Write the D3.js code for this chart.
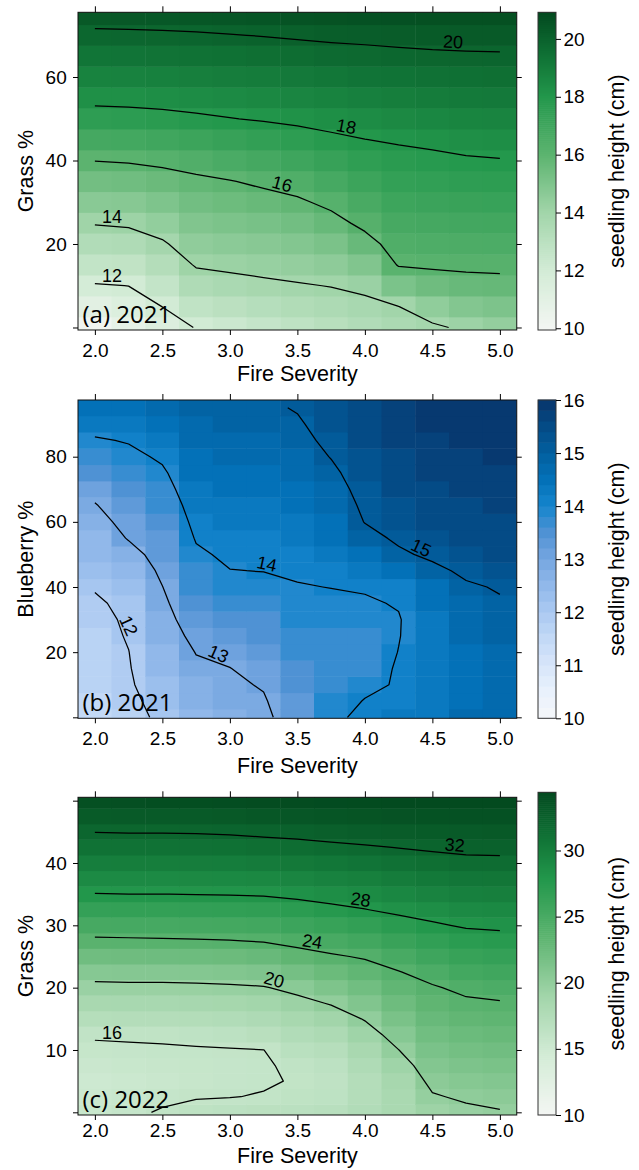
<!DOCTYPE html>
<html><head><meta charset="utf-8">
<script src="https://cdn.jsdelivr.net/npm/d3@7"></script>
<style>body{margin:0;background:#fff} svg{display:block}</style>
</head><body><svg id="c" width="639" height="1170"></svg>
<script>
// ---------------- DATA ----------------
const fireSeverity = [2.0, 2.25, 2.5, 2.75, 3.0, 3.25, 3.5, 3.75, 4.0, 4.25, 4.5, 4.75, 5.0];
const xTicks = [2.0, 2.5, 3.0, 3.5, 4.0, 4.5, 5.0];

// (a) 2021 grass: rows of grass %, one column array per fire severity
const grassA = [0, 5, 10, 15, 20, 25, 30, 35, 40, 45, 50, 55, 60, 65, 70, 75];
const heightA = [
  [10.2, 11.07, 11.93, 12.65, 13.36, 14.06, 14.71, 15.36, 16.02, 16.80, 17.59, 18.25, 18.78, 19.31, 19.83, 20.36],
  [10.8, 11.41, 12.01, 12.73, 13.45, 14.15, 14.79, 15.43, 16.08, 16.86, 17.64, 18.28, 18.81, 19.33, 19.85, 20.38],
  [11.45, 12.01, 12.63, 13.25, 13.88, 14.45, 15.02, 15.59, 16.21, 16.97, 17.73, 18.33, 18.85, 19.36, 19.88, 20.39],
  [12.05, 12.75, 13.44, 14.09, 14.52, 14.94, 15.37, 15.80, 16.39, 17.12, 17.85, 18.40, 18.91, 19.41, 19.92, 20.42],
  [12.3, 12.97, 13.65, 14.21, 14.65, 15.08, 15.52, 15.96, 16.61, 17.29, 17.97, 18.48, 18.98, 19.47, 19.97, 20.47],
  [12.57, 13.19, 13.80, 14.31, 14.76, 15.21, 15.67, 16.17, 16.81, 17.46, 18.08, 18.57, 19.05, 19.54, 20.03, 20.52],
  [12.84, 13.38, 13.92, 14.41, 14.89, 15.37, 15.85, 16.41, 17.02, 17.63, 18.19, 18.67, 19.14, 19.62, 20.10, 20.57],
  [13.1, 13.56, 14.03, 14.58, 15.13, 15.68, 16.22, 16.76, 17.29, 17.83, 18.31, 18.77, 19.24, 19.70, 20.16, 20.62],
  [13.37, 13.74, 14.22, 14.94, 15.65, 16.23, 16.67, 17.11, 17.55, 17.99, 18.43, 18.88, 19.32, 19.76, 20.20, 20.65],
  [13.63, 13.99, 15.11, 16.07, 16.41, 16.74, 17.07, 17.40, 17.73, 18.09, 18.52, 18.95, 19.39, 19.82, 20.25, 20.68],
  [13.86, 14.51, 15.47, 16.15, 16.48, 16.81, 17.15, 17.48, 17.81, 18.18, 18.61, 19.03, 19.45, 19.87, 20.29, 20.71],
  [14.15, 14.90, 15.65, 16.19, 16.53, 16.88, 17.22, 17.57, 17.91, 18.30, 18.70, 19.10, 19.50, 19.90, 20.31, 20.71],
  [14.4, 15.06, 15.72, 16.20, 16.55, 16.91, 17.26, 17.61, 17.96, 18.35, 18.74, 19.13, 19.53, 19.92, 20.31, 20.71]
];
const levelsA = [12, 14, 16, 18, 20];
const yTicksA = [0, 20, 40, 60];
const yTickLabelsA = ["", "20", "40", "60"];
const keyTicksA = [10, 12, 14, 16, 18, 20];
const keyRangeA = [9.94, 20.92];

// (b) 2021 blueberry
const blueberryB = [0, 5, 10, 15, 20, 25, 30, 35, 40, 45, 50, 55, 60, 65, 70, 75, 80, 85, 90, 95];
const heightB = [
  [11.55, 11.58, 11.62, 11.66, 11.70, 11.75, 11.80, 11.90, 12.05, 12.23, 12.42, 12.60, 12.78, 12.96, 13.19, 13.44, 13.69, 13.94, 14.22, 14.50],
  [11.75, 11.83, 11.92, 11.96, 11.99, 12.05, 12.10, 12.17, 12.35, 12.55, 12.78, 13.04, 13.20, 13.37, 13.53, 13.70, 13.86, 14.04, 14.29, 14.55],
  [12.15, 12.26, 12.36, 12.46, 12.57, 12.67, 12.78, 12.88, 12.99, 13.12, 13.25, 13.39, 13.52, 13.66, 13.79, 13.92, 14.08, 14.27, 14.46, 14.65],
  [12.55, 12.67, 12.78, 12.90, 13.02, 13.17, 13.32, 13.47, 13.62, 13.77, 13.92, 14.04, 14.14, 14.23, 14.33, 14.42, 14.52, 14.61, 14.71, 14.80],
  [12.75, 12.83, 12.91, 12.99, 13.14, 13.31, 13.48, 13.65, 13.82, 13.99, 14.09, 14.19, 14.28, 14.38, 14.47, 14.57, 14.66, 14.76, 14.85, 14.95],
  [12.88, 12.95, 13.04, 13.18, 13.32, 13.46, 13.60, 13.74, 13.88, 14.01, 14.10, 14.19, 14.28, 14.37, 14.46, 14.55, 14.63, 14.72, 14.81, 14.90],
  [13.30, 13.38, 13.47, 13.55, 13.64, 13.72, 13.80, 13.89, 13.97, 14.07, 14.16, 14.26, 14.36, 14.45, 14.55, 14.64, 14.74, 14.84, 14.93, 15.04],
  [13.85, 13.80, 13.75, 13.70, 13.68, 13.72, 13.80, 13.90, 14.01, 14.15, 14.27, 14.40, 14.52, 14.64, 14.77, 14.89, 15.02, 15.13, 15.24, 15.35],
  [14.16, 14.02, 13.90, 13.78, 13.72, 13.74, 13.82, 13.95, 14.04, 14.30, 14.55, 14.80, 15.02, 15.11, 15.19, 15.27, 15.35, 15.44, 15.52, 15.60],
  [14.25, 14.12, 14.04, 14.05, 14.01, 13.98, 13.97, 14.03, 14.20, 14.55, 14.90, 15.10, 15.25, 15.35, 15.45, 15.52, 15.58, 15.64, 15.70, 15.75],
  [14.35, 14.30, 14.28, 14.28, 14.30, 14.32, 14.35, 14.40, 14.55, 14.85, 15.12, 15.30, 15.42, 15.50, 15.58, 15.64, 15.70, 15.75, 15.80, 15.85],
  [14.62, 14.60, 14.58, 14.58, 14.60, 14.63, 14.68, 14.77, 14.92, 15.12, 15.30, 15.42, 15.52, 15.60, 15.66, 15.72, 15.77, 15.82, 15.86, 15.90],
  [14.78, 14.77, 14.76, 14.76, 14.78, 14.82, 14.87, 14.94, 15.05, 15.25, 15.40, 15.52, 15.60, 15.67, 15.73, 15.78, 15.83, 15.87, 15.91, 15.95]
];
const levelsB = [12, 13, 14, 15];
const yTicksB = [0, 20, 40, 60, 80];
const yTickLabelsB = ["", "20", "40", "60", "80"];
const keyTicksB = [10, 11, 12, 13, 14, 15, 16];
const keyRangeB = [10, 16];

// (c) 2022 grass
const grassC = [0, 2.5, 5, 7.5, 10, 12.5, 15, 17.5, 20, 22.5, 25, 27.5, 30, 32.5, 35, 37.5, 40, 42.5, 45, 47.5, 50];
const heightC = [
  [15.5, 15.2, 15.0, 15.35, 15.70, 16.18, 17.29, 18.40, 19.51, 20.80, 22.23, 23.66, 25.09, 26.51, 27.94, 28.98, 30.00, 31.02, 32.04, 32.99, 33.94],
  [15.75, 15.47, 15.2, 15.49, 15.77, 16.22, 17.33, 18.44, 19.56, 20.86, 22.29, 23.71, 25.14, 26.57, 27.99, 29.02, 30.04, 31.06, 32.08, 33.05, 34.00],
  [16.12, 15.74, 15.4, 15.62, 15.83, 16.26, 17.36, 18.46, 19.56, 20.87, 22.32, 23.77, 25.18, 26.59, 27.99, 29.02, 30.04, 31.06, 32.08, 33.07, 34.05],
  [16.45, 15.91, 15.6, 15.70, 15.88, 16.39, 17.46, 18.54, 19.61, 20.93, 22.38, 23.83, 25.24, 26.65, 28.04, 29.06, 30.08, 31.10, 32.12, 33.10, 34.10],
  [16.6, 15.96, 15.74, 15.75, 15.92, 16.58, 17.63, 18.67, 19.71, 21.04, 22.49, 23.94, 25.33, 26.72, 28.08, 29.11, 30.14, 31.18, 32.19, 33.14, 34.15],
  [16.75, 16.08, 15.86, 15.87, 15.99, 16.94, 17.92, 18.90, 19.88, 21.26, 22.69, 24.11, 25.48, 26.85, 28.17, 29.22, 30.27, 31.33, 32.34, 33.29, 34.20],
  [16.8, 16.3, 16.1, 16.25, 16.9, 17.6, 18.5, 19.4, 20.54, 21.89, 23.24, 24.58, 25.89, 27.21, 28.41, 29.43, 30.45, 31.47, 32.46, 33.40, 34.25],
  [16.95, 16.5, 16.35, 16.6, 17.2, 18.0, 19.0, 20.14, 21.35, 22.55, 23.76, 25.03, 26.31, 27.59, 28.68, 29.67, 30.67, 31.66, 32.66, 33.50, 34.30],
  [17.6, 17.35, 17.4, 17.8, 18.4, 19.2, 20.12, 21.13, 22.14, 23.15, 24.20, 25.45, 26.70, 27.95, 28.93, 29.90, 30.87, 31.84, 32.80, 33.60, 34.35],
  [18.3, 18.3, 18.6, 19.2, 19.98, 20.78, 21.57, 22.35, 23.14, 23.92, 25.03, 26.17, 27.31, 28.37, 29.28, 30.20, 31.12, 32.04, 32.90, 33.70, 34.40],
  [19.3, 19.85, 20.43, 20.99, 21.56, 22.12, 22.69, 23.25, 23.82, 24.70, 25.73, 26.76, 27.79, 28.70, 29.58, 30.46, 31.33, 32.24, 33.00, 33.75, 34.40],
  [19.65, 20.24, 20.82, 21.39, 21.97, 22.54, 23.11, 23.69, 24.43, 25.38, 26.32, 27.26, 28.18, 29.02, 29.86, 30.69, 31.53, 32.44, 33.10, 33.80, 34.40],
  [19.9, 20.45, 21.02, 21.59, 22.16, 22.73, 23.30, 23.86, 24.69, 25.60, 26.51, 27.42, 28.30, 29.11, 29.93, 30.75, 31.57, 32.48, 33.15, 33.80, 34.40]
];
const levelsC = [16, 20, 24, 28, 32];
const yTicksC = [0, 10, 20, 30, 40, 50];
const yTickLabelsC = ["", "10", "20", "30", "40", ""];
const keyTicksC = [10, 15, 20, 25, 30];
const keyRangeC = [10, 34.4];

// ---------------- STYLE / LAYOUT ----------------
const FONT = "'Liberation Sans', Arial, Helvetica, sans-serif";
const TAGFONT = "'Open Sans', 'Noto Sans', sans-serif";
const greenStops = [[0, "#f4f6f4"], [0.18, "#d4ecd7"], [0.37, "#a2d5aa"], [0.55, "#5db470"], [0.73, "#23984c"], [0.87, "#0f7034"], [1, "#034a1f"]];
const blueStops = [[0, "#f6f7f9"], [0.0833, "#e9f1fc"], [0.1667, "#d8e6fa"], [0.25, "#c3d9f6"], [0.3333, "#abc9f1"], [0.4167, "#91b8ea"], [0.5, "#76a6e0"], [0.5833, "#4f92d4"], [0.6667, "#1585cd"], [0.75, "#0371b8"], [0.8333, "#025f9f"], [0.9167, "#044b86"], [1, "#08346a"]];

const PL = 78, PR = 516.75, KX0 = 538, KX1 = 556;
const x = d3.scaleLinear().domain([1.875, 5.125]).range([PL, PR]);
const svg = d3.select("#c");

const panels = [
  {id: "a", ys: grassA, z: heightA, levels: levelsA, yTicks: yTicksA, yLabels: yTickLabelsA, keyTicks: keyTicksA, keyRange: keyRangeA,
   stops: greenStops, discrete: false, top: 12.3, bottom: 330, yDomain: [-0.6, 75.5], keyTop: 12.3, keyBottom: 330,
   xPad: 8.2, xTitleY: 380.5, tagY: 323.3, tag: "(a) 2021", yTitle: "Grass %",
   labels: [{level: 12, start: true}, {level: 14, start: true}, {level: 16, x: 3.37}, {level: 18, x: 3.85}, {level: 20, x: 4.65}]},
  {id: "b", ys: blueberryB, z: heightB, levels: levelsB, yTicks: yTicksB, yLabels: yTickLabelsB, keyTicks: keyTicksB, keyRange: keyRangeB,
   stops: blueStops, discrete: true, step: 0.2, top: 400, bottom: 718.3, yDomain: [-0.3, 97.4], keyTop: 400, keyBottom: 718.3,
   xPad: 8.2, xTitleY: 773.3, tagY: 710.7, tag: "(b) 2021", yTitle: "Blueberry %",
   labels: [{level: 12, y: 27}, {level: 13, x: 2.89}, {level: 14, x: 3.26}, {level: 15, x: 4.39}]},
  {id: "c", ys: grassC, z: heightC, levels: levelsC, yTicks: yTicksC, yLabels: yTickLabelsC, keyTicks: keyTicksC, keyRange: keyRangeC,
   stops: greenStops, discrete: false, top: 797.3, bottom: 1115, yDomain: [-0.43, 50.54], keyTop: 792.3, keyBottom: 1115,
   xPad: 3.8, xTitleY: 1163.3, tagY: 1107.7, tag: "(c) 2022", yTitle: "Grass %",
   labels: [{level: 16, start: true}, {level: 20, x: 3.31}, {level: 24, x: 3.6}, {level: 28, x: 3.96}, {level: 32, x: 4.66}]}
];

function makeRamp(stops) {
  return d3.scaleLinear().domain(stops.map(d => d[0])).range(stops.map(d => d[1])).interpolate(d3.interpolateRgb).clamp(true);
}

// marching squares isolines on grid cols[i][j] (x index i, y index j)
function isolines(xs, ys, cols, level) {
  const Z = (i, j) => cols[i][j];
  const pts = new Map();
  const H = (i, j) => { const k = "h" + i + "," + j; if (!pts.has(k)) { const a = Z(i, j), b = Z(i + 1, j), t = (level - a) / (b - a); pts.set(k, [xs[i] + t * (xs[i + 1] - xs[i]), ys[j]]); } return k; };
  const V = (i, j) => { const k = "v" + i + "," + j; if (!pts.has(k)) { const a = Z(i, j), b = Z(i, j + 1), t = (level - a) / (b - a); pts.set(k, [xs[i], ys[j] + t * (ys[j + 1] - ys[j])]); } return k; };
  const segs = [];
  for (let j = 0; j < ys.length - 1; j++) for (let i = 0; i < xs.length - 1; i++) {
    const a = Z(i, j), b = Z(i + 1, j), c = Z(i + 1, j + 1), d = Z(i, j + 1);
    const A = a >= level, B = b >= level, C = c >= level, D = d >= level;
    const e = [];
    if (A !== B) e.push(H(i, j));
    if (B !== C) e.push(V(i + 1, j));
    if (D !== C) e.push(H(i, j + 1));
    if (A !== D) e.push(V(i, j));
    if (e.length === 2) segs.push([e[0], e[1]]);
    else if (e.length === 4) {
      const ctr = (a + b + c + d) / 4 >= level;
      if (ctr === A) { segs.push([H(i, j), V(i + 1, j)]); segs.push([H(i, j + 1), V(i, j)]); }
      else { segs.push([V(i, j), H(i, j)]); segs.push([V(i + 1, j), H(i, j + 1)]); }
    }
  }
  const adj = new Map();
  segs.forEach((s, idx) => s.forEach(k => { if (!adj.has(k)) adj.set(k, []); adj.get(k).push(idx); }));
  const used = new Array(segs.length).fill(false);
  const lines = [];
  function walk(startKey) {
    const keys = [startKey]; let cur = startKey;
    while (true) {
      const nxt = (adj.get(cur) || []).find(id => !used[id]);
      if (nxt === undefined) break;
      used[nxt] = true;
      const s = segs[nxt]; cur = s[0] === cur ? s[1] : s[0]; keys.push(cur);
    }
    return keys.map(k => pts.get(k));
  }
  for (const [k, list] of adj) if (list.length === 1 && !used[list[0]]) lines.push(walk(k));
  segs.forEach((s, idx) => { if (!used[idx]) lines.push(walk(s[0])); });
  return lines;
}

function labelPoint(lines, spec, y) {
  for (const L of lines) {
    for (let k = 0; k < L.length - 1; k++) {
      const p = L[k], q = L[k + 1];
      let t = null;
      if (spec.x !== undefined) { if ((p[0] - spec.x) * (q[0] - spec.x) <= 0 && p[0] !== q[0]) t = (spec.x - p[0]) / (q[0] - p[0]); }
      else { if ((p[1] - spec.y) * (q[1] - spec.y) <= 0 && p[1] !== q[1]) t = (spec.y - p[1]) / (q[1] - p[1]); }
      if (t !== null) {
        const px = x(p[0] + t * (q[0] - p[0])), py = y(p[1] + t * (q[1] - p[1]));
        const p0 = L[Math.max(k - 1, 0)], q0 = L[Math.min(k + 2, L.length - 1)];
        let ang = Math.atan2(y(q0[1]) - y(p0[1]), x(q0[0]) - x(p0[0])) * 180 / Math.PI;
        if (ang > 90) ang -= 180; if (ang <= -90) ang += 180;
        return {px, py, ang};
      }
    }
  }
  return null;
}

function styleAxis(g, size) {
  g.select(".domain").remove();
  g.selectAll(".tick line").attr("stroke", "#000").attr("stroke-width", 1);
  g.selectAll(".tick text").attr("fill", "#000").style("font-family", FONT).style("font-size", size + "px");
  g.attr("font-family", null).attr("font-size", null);
}

panels.forEach(cfg => {
  const y = d3.scaleLinear().domain(cfg.yDomain).range([cfg.bottom, cfg.top]);
  const ramp = makeRamp(cfg.stops);
  const span = cfg.keyRange[1] - cfg.keyRange[0];
  const colorOf = v => cfg.discrete
    ? ramp((Math.floor((v - cfg.keyRange[0]) / cfg.step) + 0.5) * cfg.step / span)
    : ramp((v - cfg.keyRange[0]) / span);
  const g = svg.append("g");
  const clipId = "clip" + cfg.id;
  svg.append("clipPath").attr("id", clipId).append("rect")
    .attr("x", PL).attr("y", cfg.top).attr("width", PR - PL).attr("height", cfg.bottom - cfg.top);

  // heatmap cells
  const rowStep = cfg.ys[1] - cfg.ys[0];
  const cells = [];
  cfg.z.forEach((col, i) => col.forEach((v, j) => cells.push({fx: fireSeverity[i], cy: cfg.ys[j], v})));
  g.append("g").attr("clip-path", `url(#${clipId})`).selectAll("rect").data(cells).join("rect")
    .attr("x", d => x(d.fx - 0.125) - 0.25)
    .attr("width", x(0.25) - x(0) + 0.5)
    .attr("y", d => y(d.cy + rowStep / 2) - 0.25)
    .attr("height", y(0) - y(rowStep) + 0.5)
    .attr("fill", d => colorOf(d.v));

  // contours
  const line = d3.line().x(p => x(p[0])).y(p => y(p[1]));
  const cg = g.append("g");
  const allLines = {};
  cfg.levels.forEach(lv => {
    const ls = isolines(fireSeverity, cfg.ys, cfg.z, lv);
    allLines[lv] = ls;
    ls.forEach(L => cg.append("path").attr("d", line(L)).attr("fill", "none")
      .attr("stroke", "#000").attr("stroke-width", 1.25).attr("stroke-linejoin", "round"));
  });

  // contour labels
  cfg.labels.forEach(spec => {
    const ls = allLines[spec.level];
    if (!ls || !ls.length) return;
    if (spec.start) {
      let best = null;
      ls.forEach(L => [L[0], L[L.length - 1]].forEach(p => { if (!best || p[0] < best[0]) best = p; }));
      cg.append("text").attr("x", x(best[0]) + 7).attr("y", y(best[1]) - 1.5)
        .attr("text-anchor", "start").style("font-family", FONT).style("font-size", "18px").text(spec.level);
    } else {
      const lp = labelPoint(ls, spec, y);
      if (!lp) return;
      cg.append("text").attr("transform", `translate(${lp.px},${lp.py}) rotate(${lp.ang})`)
        .attr("x", 0).attr("y", -2.5).attr("text-anchor", "middle")
        .style("font-family", FONT).style("font-size", "18px").text(spec.level);
    }
  });

  // panel border
  g.append("rect").attr("x", PL).attr("y", cfg.top).attr("width", PR - PL).attr("height", cfg.bottom - cfg.top)
    .attr("fill", "none").attr("stroke", "#111").attr("stroke-width", 1);

  // axes
  const ax1 = g.append("g").attr("transform", `translate(0,${cfg.bottom})`)
    .call(d3.axisBottom(x).tickValues(xTicks).tickFormat(d3.format(".1f")).tickSize(5).tickPadding(cfg.xPad));
  styleAxis(ax1, 19);
  const ax2 = g.append("g").attr("transform", `translate(0,${cfg.top})`)
    .call(d3.axisTop(x).tickValues(xTicks).tickFormat("").tickSize(6));
  styleAxis(ax2, 19);
  const ax3 = g.append("g").attr("transform", `translate(${PL},0)`)
    .call(d3.axisLeft(y).tickValues(cfg.yTicks).tickFormat((d, i) => cfg.yLabels[i]).tickSize(5).tickPadding(6.3));
  styleAxis(ax3, 19);
  const ax4 = g.append("g").attr("transform", `translate(${PR},0)`)
    .call(d3.axisRight(y).tickValues(cfg.yTicks).tickFormat("").tickSize(5));
  styleAxis(ax4, 19);

  // titles
  g.append("text").attr("x", (PL + PR) / 2).attr("y", cfg.xTitleY).attr("text-anchor", "middle")
    .style("font-family", FONT).style("font-size", "21.5px").text("Fire Severity");
  g.append("text").attr("transform", `translate(32.5,${(cfg.top + cfg.bottom) / 2}) rotate(-90)`).attr("text-anchor", "middle")
    .style("font-family", FONT).style("font-size", "21.5px").text(cfg.yTitle);
  g.append("text").attr("x", PL + 4.5).attr("y", cfg.tagY)
    .style("font-family", TAGFONT).style("font-size", "24px").text(cfg.tag);

  // colour key
  const k = d3.scaleLinear().domain(cfg.keyRange).range([cfg.keyBottom, cfg.keyTop]);
  const kg = g.append("g");
  let bins;
  if (cfg.discrete) {
    bins = d3.range(cfg.keyRange[0], cfg.keyRange[1] - 1e-9, cfg.step).map(v => [v, v + cfg.step]);
  } else {
    const n = 160, st = span / n;
    bins = d3.range(n).map(i => [cfg.keyRange[0] + i * st, cfg.keyRange[0] + (i + 1) * st]);
  }
  kg.selectAll("rect").data(bins).join("rect")
    .attr("x", KX0).attr("width", KX1 - KX0)
    .attr("y", d => k(d[1]) - 0.3).attr("height", d => k(d[0]) - k(d[1]) + 0.6)
    .attr("fill", d => colorOf((d[0] + d[1]) / 2));
  kg.append("rect").attr("x", KX0).attr("y", cfg.keyTop).attr("width", KX1 - KX0).attr("height", cfg.keyBottom - cfg.keyTop)
    .attr("fill", "none").attr("stroke", "#333").attr("stroke-width", 1);
  const ax5 = kg.append("g").attr("transform", `translate(${KX1},0)`)
    .call(d3.axisRight(k).tickValues(cfg.keyTicks).tickFormat(d3.format("d")).tickSize(5).tickPadding(2.5));
  styleAxis(ax5, 19);
  kg.append("text").attr("transform", `translate(623.5,${(cfg.keyTop + cfg.keyBottom) / 2}) rotate(-90)`).attr("text-anchor", "middle")
    .style("font-family", FONT).style("font-size", "21.5px").text("seedling height (cm)");
});
</script>
</body></html>
